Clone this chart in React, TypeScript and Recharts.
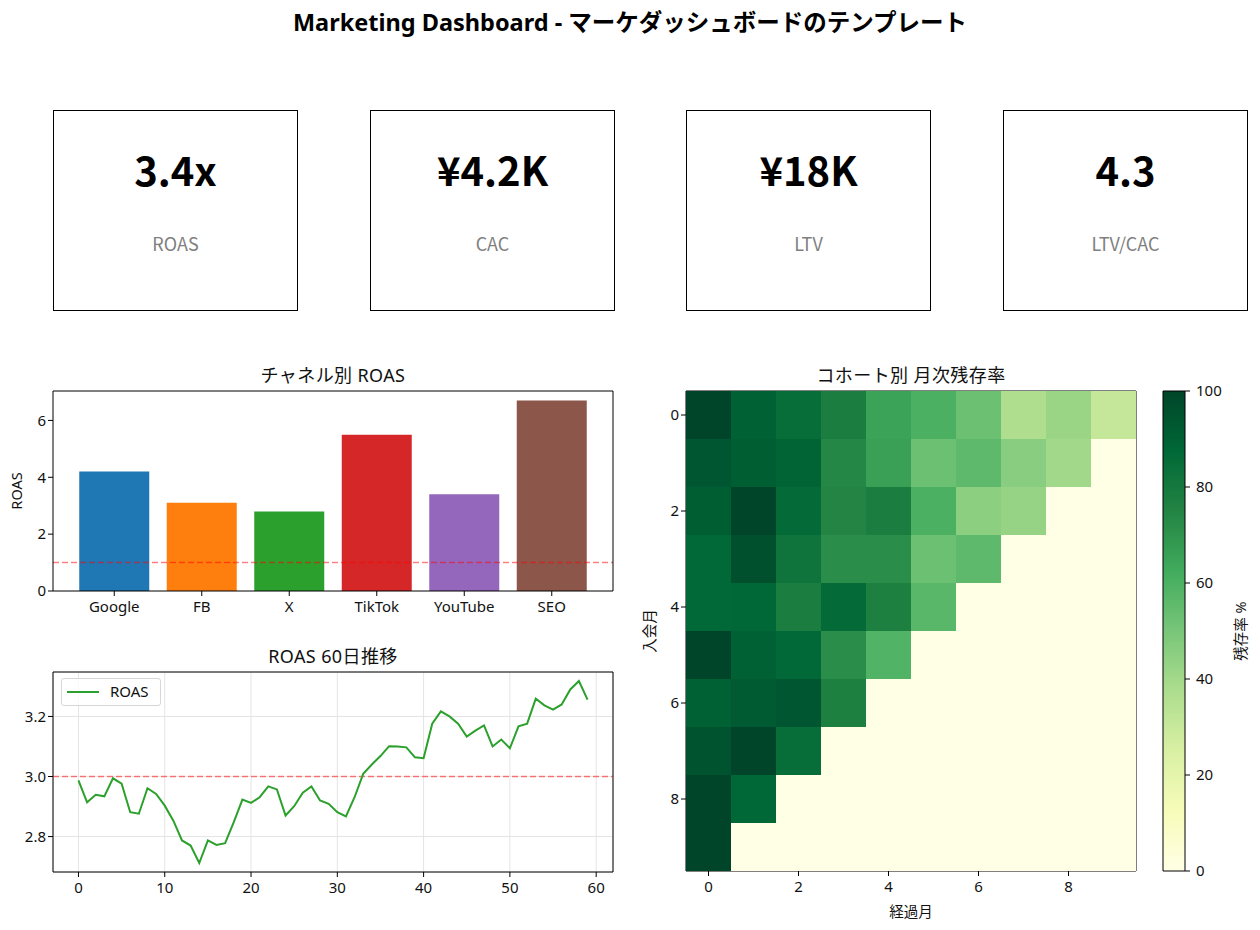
import React from 'react';
import {
  BarChart,
  Bar,
  Cell,
  XAxis,
  YAxis,
  ReferenceLine,
  ReferenceArea,
  LineChart,
  Line,
  CartesianGrid,
  ScatterChart,
  Scatter,
} from 'recharts';

const FONT = '"Noto Sans", "Noto Sans CJK JP", sans-serif';
const KPI_FONT = '"Noto Sans CJK JP", "Noto Sans", sans-serif';

// KPI cards
const kpiValues = ['3.4x', '¥4.2K', '¥18K', '4.3'];
const kpiLabels = ['ROAS', 'CAC', 'LTV', 'LTV/CAC'];

// channel ROAS
const channels = ['Google', 'FB', 'X', 'TikTok', 'YouTube', 'SEO'];
const channelRoas = [4.2, 3.1, 2.8, 5.5, 3.4, 6.7];
const channelColors = ['#1f77b4', '#ff7f0e', '#2ca02c', '#d62728', '#9467bd', '#8c564b'];

// 60 day ROAS trend
const roasDaily = [
  2.987, 2.914, 2.939, 2.934, 2.994, 2.976, 2.881, 2.876, 2.961, 2.942,
  2.903, 2.853, 2.787, 2.77, 2.712, 2.787, 2.772, 2.778, 2.848, 2.923,
  2.912, 2.931, 2.967, 2.957, 2.87, 2.901, 2.946, 2.967, 2.92, 2.909,
  2.881, 2.867, 2.931, 3.009, 3.04, 3.068, 3.101, 3.1, 3.097, 3.064,
  3.061, 3.176, 3.217, 3.2, 3.176, 3.133, 3.153, 3.17, 3.1, 3.123,
  3.094, 3.167, 3.176, 3.259, 3.237, 3.223, 3.24, 3.29, 3.318, 3.256,
];

// cohort retention % (row = 入会月, col = 経過月), missing cells are 0
const cohortMonths = [0, 1, 2, 3, 4, 5, 6, 7, 8, 9];
const retention = [
  [100, 90, 85, 78, 65, 60, 53, 37, 42, 31],
  [94, 91, 89, 74, 66, 53, 56, 46, 40],
  [91, 100, 86, 75, 78, 60, 45, 43],
  [87, 96, 82, 72, 72, 53, 56],
  [87, 88, 78, 86, 77, 57],
  [100, 90, 87, 72, 59],
  [90, 92, 94, 77],
  [95, 100, 85],
  [100, 88],
  [100],
];
const heatTicks = [0, 2, 4, 6, 8];
const colorbarTicks = [0, 20, 40, 60, 80, 100];

// YlGn colormap
const YLGN = ['#ffffe5', '#f7fcb9', '#d9f0a3', '#addd8e', '#78c679', '#41ab5d', '#238443', '#006837', '#004529'];

function hexToRgb(h: string) {
  return [parseInt(h.slice(1, 3), 16), parseInt(h.slice(3, 5), 16), parseInt(h.slice(5, 7), 16)];
}

function ylgn(v: number) {
  const t = Math.max(0, Math.min(1, v / 100)) * (YLGN.length - 1);
  const i = Math.min(Math.floor(t), YLGN.length - 2);
  const f = t - i;
  const a = hexToRgb(YLGN[i]);
  const b = hexToRgb(YLGN[i + 1]);
  const c = a.map((x, k) => Math.round(x + (b[k] - x) * f));
  return `rgb(${c[0]},${c[1]},${c[2]})`;
}

const barData = channels.map((name, i) => ({ name, roas: channelRoas[i] }));
const lineData = roasDaily.map((roas, day) => ({ day, roas }));
const heatData = cohortMonths.flatMap((row) =>
  cohortMonths.map((col) => ({ x: col, y: row, v: retention[row][col] ?? 0 }))
);

const tick = { fontSize: 15, fill: '#111', fontFamily: FONT };
const axisLabel = { fontSize: 14.5, fill: '#111', fontFamily: FONT };
const frame = { stroke: '#000', strokeWidth: 1 };

// heatmap plot is 450 x 480 px, 10 x 10 cells
const CELL_W = 45;
const CELL_H = 48;

const HeatCell = (props: any) => {
  const { cx, cy, payload } = props;
  return (
    <rect
      x={cx - CELL_W / 2}
      y={cy - CELL_H / 2}
      width={CELL_W}
      height={CELL_H}
      fill={ylgn(payload.v)}
      shapeRendering="crispEdges"
    />
  );
};

const titleStyle = (left: number, top: number, width: number): React.CSSProperties => ({
  position: 'absolute',
  left,
  top,
  width,
  textAlign: 'center',
  fontSize: 18,
  lineHeight: '22px',
  color: '#111',
  letterSpacing: 0.4,
});

export default function App() {
  return (
    <div style={{ position: 'relative', width: 1260, height: 930, background: '#fff', fontFamily: FONT }}>
      <style>{'body{margin:0}'}</style>

      <div
        style={{
          position: 'absolute',
          left: 0,
          top: 8,
          width: 1260,
          textAlign: 'center',
          fontSize: 23.5,
          fontWeight: 700,
          lineHeight: '28px',
          color: '#000',
        }}
      >
        Marketing Dashboard - マーケダッシュボードのテンプレート
      </div>

      {kpiValues.map((val, i) => (
        <div
          key={kpiLabels[i]}
          style={{
            position: 'absolute',
            left: [53, 370, 686, 1003][i],
            top: 110,
            width: 243,
            height: 199,
            border: '1px solid #000',
            fontFamily: KPI_FONT,
          }}
        >
          <div
            style={{
              position: 'absolute',
              top: 34,
              width: '100%',
              textAlign: 'center',
              fontSize: 40,
              fontWeight: 700,
              lineHeight: '48px',
              color: '#000',
            }}
          >
            {val}
          </div>
          <div
            style={{
              position: 'absolute',
              top: 120,
              width: '100%',
              textAlign: 'center',
              fontSize: 18,
              lineHeight: '24px',
              color: '#808080',
            }}
          >
            {kpiLabels[i]}
          </div>
        </div>
      ))}

      {/* channel ROAS */}
      <div style={titleStyle(53, 364, 560)}>チャネル別 ROAS</div>
      <div style={{ position: 'absolute', left: 0, top: 355 }}>
        <BarChart
          width={630}
          height={270}
          data={barData}
          margin={{ top: 35, right: 16, bottom: 4, left: 13 }}
          barCategoryGap="10%"
        >
          <XAxis
            dataKey="name"
            height={30}
            padding={{ left: 17.5, right: 17.5 }}
            axisLine={frame}
            tickLine={{ stroke: '#000' }}
            tickSize={5}
            tickMargin={5}
            tick={tick}
            interval={0}
          />
          <XAxis xAxisId="top" dataKey="name" orientation="top" height={1} axisLine={frame} tick={false} tickLine={false} />
          <YAxis
            type="number"
            domain={[0, 7.035]}
            allowDataOverflow
            ticks={[0, 2, 4, 6]}
            width={40}
            axisLine={frame}
            tickLine={{ stroke: '#000' }}
            tickSize={5}
            tick={tick}
            label={{ value: 'ROAS', angle: -90, position: 'insideLeft', offset: 4, style: { ...axisLabel, textAnchor: 'middle' } }}
          />
          <YAxis yAxisId="right" orientation="right" width={1} domain={[0, 7.035]} axisLine={frame} tick={false} tickLine={false} />
          <Bar dataKey="roas" isAnimationActive={false}>
            {barData.map((d, i) => (
              <Cell key={d.name} fill={channelColors[i]} />
            ))}
          </Bar>
          <ReferenceLine y={1} stroke="red" strokeOpacity={0.5} strokeWidth={1.5} strokeDasharray="6 3" />
        </BarChart>
      </div>

      {/* ROAS trend */}
      <div style={titleStyle(53, 645, 560)}>ROAS 60日推移</div>
      <div style={{ position: 'absolute', left: 0, top: 640 }}>
        <LineChart width={630} height={270} data={lineData} margin={{ top: 32, right: 17, bottom: 8, left: 13 }}>
          <CartesianGrid stroke="#e4e4e4" />
          <XAxis
            dataKey="day"
            type="number"
            domain={[-2.95, 61.95]}
            allowDataOverflow
            ticks={[0, 10, 20, 30, 40, 50, 60]}
            height={30}
            axisLine={false}
            tickLine={{ stroke: '#000' }}
            tickSize={5}
            tickMargin={5}
            tick={tick}
          />
          <YAxis
            type="number"
            domain={[2.682, 3.348]}
            allowDataOverflow
            ticks={[2.8, 3.0, 3.2]}
            tickFormatter={(v: number) => v.toFixed(1)}
            width={40}
            axisLine={false}
            tickLine={{ stroke: '#000' }}
            tickSize={5}
            tick={tick}
          />
          <ReferenceLine y={3} stroke="red" strokeOpacity={0.5} strokeWidth={1.5} strokeDasharray="6 3" />
          <Line type="linear" dataKey="roas" stroke="#2ca02c" strokeWidth={2} dot={false} isAnimationActive={false} />
          <ReferenceArea y1={2.682} y2={3.348} fill="none" {...frame} />
        </LineChart>
      </div>
      <div
        style={{
          position: 'absolute',
          left: 61,
          top: 678,
          width: 98,
          height: 26,
          border: '1px solid #d6d6d6',
          borderRadius: 3,
          background: 'rgba(255,255,255,0.8)',
        }}
      >
        <div style={{ position: 'absolute', left: 5, top: 12, width: 32, height: 2, background: '#2ca02c' }} />
        <div style={{ position: 'absolute', left: 48, top: 2, fontSize: 15, lineHeight: '20px', color: '#111' }}>ROAS</div>
      </div>

      {/* cohort heatmap */}
      <div style={titleStyle(686, 364, 450)}>コホート別 月次残存率</div>
      <div style={{ position: 'absolute', left: 630, top: 355 }}>
        <ScatterChart width={520} height={575} margin={{ top: 36, right: 14, bottom: 9, left: 16 }}>
          <XAxis
            dataKey="x"
            type="number"
            domain={[-0.5, 9.5]}
            allowDataOverflow
            ticks={heatTicks}
            height={50}
            axisLine={false}
            tickLine={{ stroke: '#000' }}
            tickSize={5}
            tickMargin={5}
            tick={tick}
            label={{ value: '経過月', position: 'insideBottom', offset: 4, style: axisLabel }}
          />
          <YAxis
            dataKey="y"
            type="number"
            domain={[-0.5, 9.5]}
            allowDataOverflow
            reversed
            ticks={heatTicks}
            width={40}
            axisLine={false}
            tickLine={{ stroke: '#000' }}
            tickSize={5}
            tick={tick}
            label={{ value: '入会月', angle: -90, position: 'insideLeft', offset: 4, style: { ...axisLabel, textAnchor: 'middle' } }}
          />
          <Scatter data={heatData} shape={<HeatCell />} isAnimationActive={false} />
          <ReferenceArea y1={-0.5} y2={9.5} fill="none" {...frame} />
        </ScatterChart>
      </div>

      {/* colorbar */}
      <div style={{ position: 'absolute', left: 1150, top: 355 }}>
        <BarChart
          width={110}
          height={575}
          data={[{ name: 'cb', v: 100 }]}
          margin={{ top: 36, right: 15, bottom: 59, left: 13 }}
          barCategoryGap={0}
        >
          <defs>
            <linearGradient id="ylgnGrad" x1="0" y1="1" x2="0" y2="0">
              {YLGN.map((c, i) => (
                <stop key={c} offset={i / (YLGN.length - 1)} stopColor={c} />
              ))}
            </linearGradient>
          </defs>
          <XAxis dataKey="name" hide />
          <YAxis
            orientation="right"
            type="number"
            domain={[0, 100]}
            ticks={colorbarTicks}
            width={60}
            axisLine={false}
            tickLine={{ stroke: '#000' }}
            tickSize={5}
            tickMargin={6}
            tick={tick}
            label={{ value: '残存率 %', angle: -90, position: 'insideRight', offset: 4, style: { ...axisLabel, textAnchor: 'middle' } }}
          />
          <Bar dataKey="v" fill="url(#ylgnGrad)" stroke="#000" strokeWidth={1} isAnimationActive={false} />
        </BarChart>
      </div>
    </div>
  );
}
